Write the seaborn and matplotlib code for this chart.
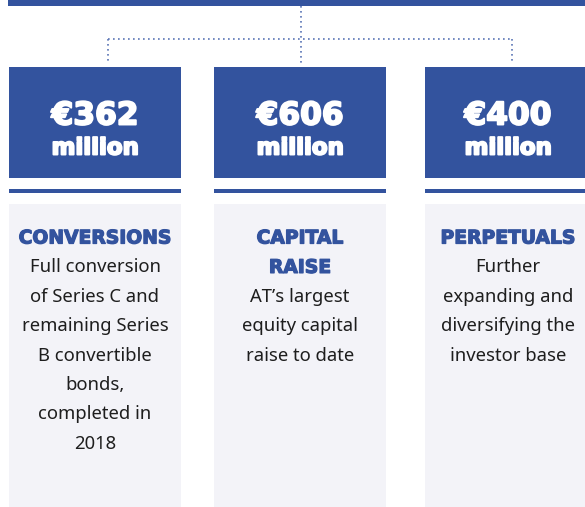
import matplotlib.pyplot as plt
import matplotlib.patheffects as pe
import seaborn as sns

sns.set_theme(style="white")

# Data
amounts = ["€362", "€606", "€400"]
unit = "million"
headings = [["CONVERSIONS"], ["CAPITAL", "RAISE"], ["PERPETUALS"]]
descriptions = [
    ["Full conversion", "of Series C and", "remaining Series", "B convertible",
     "bonds,", "completed in", "2018"],
    ["AT’s largest", "equity capital", "raise to date"],
    ["Further", "expanding and", "diversifying the", "investor base"],
]

# Layout (pixels)
W, H = 585, 507
blue = "#33539e"
grey = "#f3f3f8"
lefts = [9, 214, 425]
rights = [181, 386, 597]
centers = [95, 300, 508]

fig = plt.figure(figsize=(W / 100, H / 100), dpi=100)
ax = fig.add_axes([0, 0, 1, 1])
ax.set_xlim(0, W)
ax.set_ylim(H, 0)
ax.axis("off")

# top bar
ax.bar(8, 6, bottom=0, width=W - 8, align="edge", color=blue, linewidth=0)

# connector lines
dot = dict(color="#5a74b5", lw=1.2, linestyle=(0, (1, 2)))
ax.plot([301, 301], [6, 63], **dot)
ax.plot([108, 512], [39, 39], **dot)
ax.plot([108, 108], [39, 63], **dot)
ax.plot([512, 512], [39, 63], **dot)

widths = [r - l for l, r in zip(lefts, rights)]
ax.bar(lefts, 111, bottom=67, width=widths, align="edge", color=blue, linewidth=0)
ax.bar(lefts, 4, bottom=189, width=widths, align="edge", color=blue, linewidth=0)
ax.bar(lefts, H - 204, bottom=204, width=widths, align="edge", color=grey, linewidth=0)

heavy = ["DejaVu Sans"]
thick_w = [pe.withStroke(linewidth=1.4, foreground="white")]
thick_b = [pe.withStroke(linewidth=0.9, foreground=blue)]
line_h = 29.4
for i, c in enumerate(centers):
    ax.text(c, 116, amounts[i], ha="center", va="center", color="white",
            fontsize=22.5, fontweight="bold", family=heavy, path_effects=thick_w)
    ax.text(c, 148, unit, ha="center", va="center", color="white",
            fontsize=16.5, fontweight="bold", family=heavy, path_effects=thick_w)
    y = 238
    for h in headings[i]:
        ax.text(c, y, h, ha="center", va="center", color=blue,
                fontsize=13.5, fontweight="bold", family=heavy, path_effects=thick_b)
        y += line_h
    for d in descriptions[i]:
        ax.text(c, y, d, ha="center", va="center", color="#1e1e1e",
                fontsize=13.3, family=["Noto Sans", "DejaVu Sans"])
        y += line_h

fig.savefig("out.png", dpi=100)
